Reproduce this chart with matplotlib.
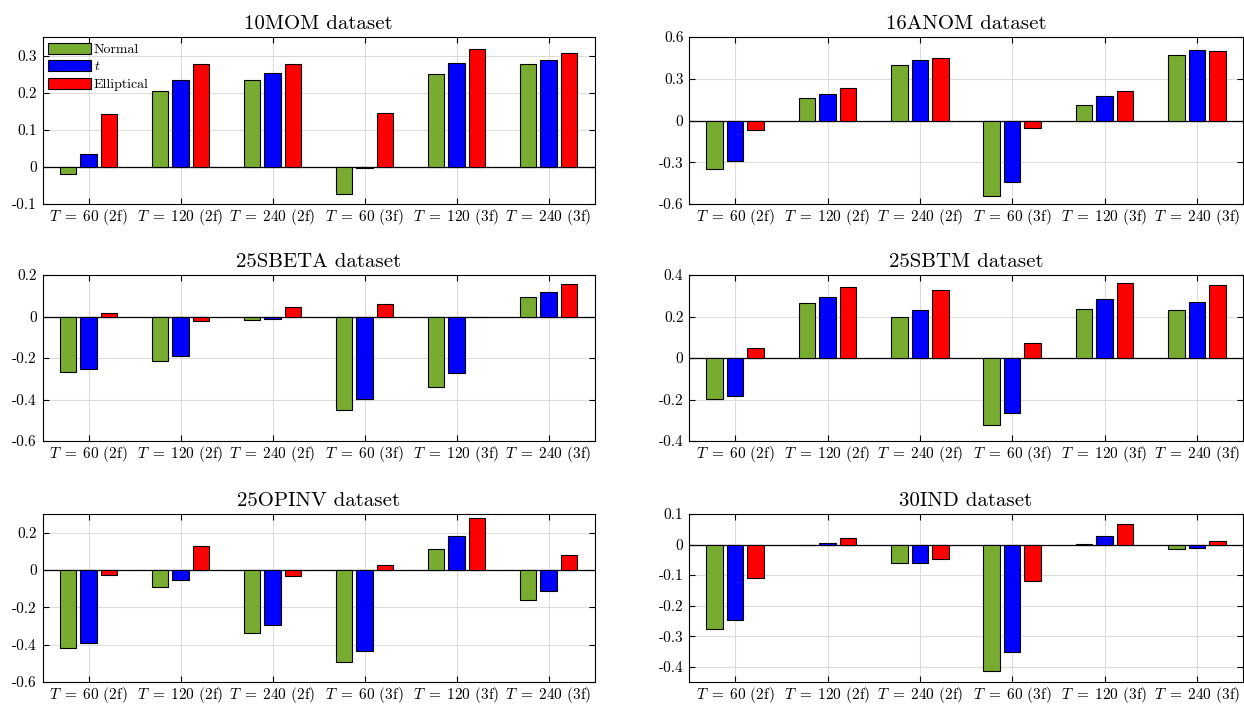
import numpy as np
import matplotlib
matplotlib.use('Agg')
import matplotlib.pyplot as plt

plt.rcParams['font.family'] = 'serif'
plt.rcParams['font.serif'] = ['cmr10', 'DejaVu Serif']
plt.rcParams['mathtext.fontset'] = 'cm'
plt.rcParams['axes.formatter.use_mathtext'] = True

GROUPS = [r'$T\;=\;60$ (2f)', r'$T\;=\;120$ (2f)', r'$T\;=\;240$ (2f)',
          r'$T\;=\;60$ (3f)', r'$T\;=\;120$ (3f)', r'$T\;=\;240$ (3f)']
SERIES = ['Normal', r'$t$', 'Elliptical']
COLORS = ['#77AC30', '#0000FF', '#FF0000']

TITLES = ['10MOM', '16ANOM', '25SBETA', '25SBTM', '25OPINV', '30IND']

# rows: Normal, t, Elliptical ; columns: the six groups
MOM10 = [[-0.020, 0.205, 0.233, -0.073, 0.251, 0.278],
         [0.035, 0.235, 0.253, -0.002, 0.281, 0.287],
         [0.142, 0.278, 0.276, 0.145, 0.317, 0.306]]
ANOM16 = [[-0.350, 0.160, 0.400, -0.540, 0.110, 0.470],
          [-0.290, 0.190, 0.435, -0.440, 0.175, 0.510],
          [-0.070, 0.230, 0.450, -0.055, 0.215, 0.500]]
SBETA25 = [[-0.266, -0.213, -0.019, -0.453, -0.338, 0.096],
           [-0.251, -0.189, -0.010, -0.397, -0.272, 0.117],
           [0.018, -0.021, 0.048, 0.061, -0.004, 0.157]]
SBTM25 = [[-0.197, 0.264, 0.197, -0.325, 0.238, 0.229],
          [-0.181, 0.293, 0.232, -0.266, 0.283, 0.269],
          [0.048, 0.341, 0.330, 0.074, 0.363, 0.352]]
OPINV25 = [[-0.416, -0.090, -0.335, -0.494, 0.110, -0.160],
           [-0.393, -0.054, -0.295, -0.434, 0.182, -0.114],
           [-0.027, 0.130, -0.032, 0.029, 0.276, 0.083]]
IND30 = [[-0.277, -0.003, -0.061, -0.413, 0.003, -0.016],
         [-0.248, 0.004, -0.059, -0.351, 0.027, -0.010],
         [-0.110, 0.021, -0.047, -0.120, 0.067, 0.012]]

DATA = [MOM10, ANOM16, SBETA25, SBTM25, OPINV25, IND30]
YLIMS = [(-0.1, 0.35), (-0.6, 0.6), (-0.6, 0.2), (-0.4, 0.4), (-0.6, 0.3), (-0.45, 0.1)]
YTICKS = [[-0.1, 0, 0.1, 0.2, 0.3],
          [-0.6, -0.3, 0, 0.3, 0.6],
          [-0.6, -0.4, -0.2, 0, 0.2],
          [-0.4, -0.2, 0, 0.2, 0.4],
          [-0.6, -0.4, -0.2, 0, 0.2],
          [-0.4, -0.3, -0.2, -0.1, 0, 0.1]]

W, H = 1244, 704
# axes boxes in pixels: left, top, right, bottom
BOXES = [(42.5, 37, 594.5, 204), (689, 37, 1243, 204),
         (42.5, 275, 594.5, 441), (689, 275, 1243, 441),
         (42.5, 514, 594.5, 682), (689, 514, 1243, 682)]


def main():
    fig = plt.figure(figsize=(W / 100, H / 100), dpi=100)
    x = np.arange(1, len(GROUPS) + 1)
    step = 0.222
    width = 0.18
    for k, (l, t, r, b) in enumerate(BOXES):
        ax = fig.add_axes([l / W, 1 - b / H, (r - l) / W, (b - t) / H])
        vals = DATA[k]
        for s in range(3):
            ax.bar(x + (s - 1) * step, vals[s], width=width, color=COLORS[s],
                   edgecolor='black', linewidth=0.8, label=SERIES[s], zorder=3)
        ax.axhline(0, color='black', linewidth=0.9, zorder=2.5)
        ax.set_xlim(0.5, 6.5)
        ax.set_ylim(*YLIMS[k])
        ax.set_xticks(x)
        ax.set_xticklabels(GROUPS, fontsize=11)
        ax.set_yticks(YTICKS[k])
        ax.set_yticklabels([f'{v:g}' for v in YTICKS[k]], fontsize=11)
        ax.tick_params(direction='in', top=True, right=True, length=4, width=0.8)
        ax.tick_params(axis='x', pad=2)
        ax.tick_params(axis='y', pad=4)
        ax.grid(True, color='#dcdcdc', linewidth=0.8)
        ax.set_axisbelow(True)
        for sp in ax.spines.values():
            sp.set_linewidth(0.8)
        ax.set_title(f'{TITLES[k]} dataset', fontsize=15, pad=6)
        if k == 0:
            ax.legend(loc='upper left', fontsize=10, frameon=False,
                      handlelength=3.1, handleheight=0.85, handletextpad=0.2,
                      labelspacing=0.3, borderaxespad=0.1, borderpad=0.3)
    fig.savefig('out.png', dpi=100)


if __name__ == '__main__':
    main()
